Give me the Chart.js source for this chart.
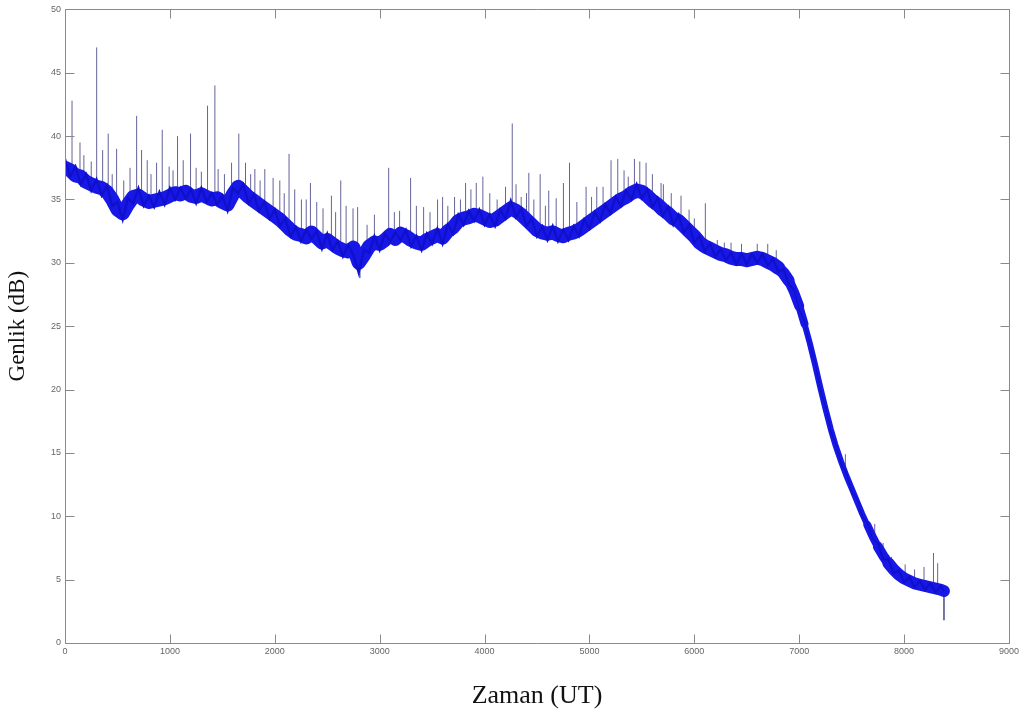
<!DOCTYPE html>
<html>
<head>
<meta charset="utf-8">
<script src="https://cdn.jsdelivr.net/npm/chart.js@4.4.1/dist/chart.umd.min.js"></script>
<style>
  html, body { margin: 0; padding: 0; background: #ffffff; }
  #wrap { width: 1022px; height: 722px; }
</style>
</head>
<body>
<div id="wrap"><canvas id="c" width="1022" height="722"></canvas></div>
<script>
// ---- data ----
const xTickLabels = ['0','1000','2000','3000','4000','5000','6000','7000','8000','9000'];
const yTickLabels = ['0','5','10','15','20','25','30','35','40','45','50'];

// samples are one every 50 s starting at 0
const sampleStep = 50;

// middle of the dense blue band (dB)
const bandMiddle = [
  37.5,37.3,36.9,36.8,36.4,36.2,36.0,35.9,35.6,35.0,
  34.2,33.9,34.6,35.2,35.3,35.0,34.8,34.9,35.0,35.1,
  35.3,35.5,35.4,35.6,35.3,35.2,35.4,35.2,35.0,35.1,
  34.8,34.6,35.4,36.0,35.6,35.2,34.9,34.6,34.3,34.0,
  33.7,33.4,33.0,32.6,32.3,32.2,32.0,32.4,32.0,31.6,
  31.8,31.5,31.2,31.0,30.9,31.2,30.0,30.6,31.3,31.6,
  31.5,31.8,32.2,31.9,32.3,32.1,31.8,31.6,31.5,31.8,
  32.0,32.2,32.0,32.5,32.8,33.3,33.5,33.6,33.8,33.7,
  33.5,33.3,33.4,33.7,34.0,34.3,34.1,33.8,33.4,33.0,
  32.6,32.4,32.3,32.4,32.2,32.1,32.3,32.4,32.6,32.9,
  33.2,33.5,33.8,34.1,34.4,34.7,35.0,35.2,35.5,35.7,
  35.6,35.3,34.9,34.6,34.2,33.9,33.5,33.3,32.9,32.5,
  32.1,31.6,31.3,31.1,30.9,30.7,30.6,30.4,30.3,30.3,
  30.2,30.3,30.4,30.3,30.1,29.9,29.6,29.2,28.6,27.7,
  26.6,25.2,23.7,22.0,20.2,18.5,16.9,15.5,14.3,13.2,
  12.2,11.2,10.2,9.3,8.4,7.6,6.9,6.3,5.8,5.4,
  5.1,4.9,4.7,4.6,4.5,4.4,4.3,4.2
];

// noisy amplitude samples (dB)
const amplitude = [
  38.2,36.8,37.6,36.2,37.0,35.7,36.6,35.3,36.1,34.5,
  34.8,33.4,35.1,34.7,35.9,34.5,35.3,34.4,35.6,34.6,
  35.9,35.0,35.9,35.1,35.8,34.7,35.9,34.8,35.5,34.6,
  35.3,34.1,35.9,35.5,36.2,34.7,35.4,34.1,34.8,33.5,
  34.2,32.9,33.5,32.1,32.8,31.7,32.6,31.9,32.5,31.1,
  32.3,31.0,31.7,30.5,31.4,30.6,29.2,31.0,30.8,32.1,
  31.0,32.3,31.7,32.4,31.8,32.6,31.3,32.1,31.0,32.3,
  31.5,32.7,31.5,33.0,32.3,33.8,33.0,34.1,33.3,34.2,
  33.0,33.8,32.9,34.2,33.5,34.9,33.6,34.3,32.9,33.5,
  32.1,32.9,31.8,32.9,31.7,32.6,31.8,32.9,32.1,33.4,
  32.7,34.0,33.3,34.6,33.9,35.2,34.5,35.7,35.0,36.2,
  35.1,35.8,34.4,35.1,33.7,34.4,33.0,33.8,32.4,33.0,
  31.6,32.1,30.9,31.5,30.5,31.1,30.2,30.8,29.9,30.7,
  29.9,30.7,30.0,30.7,29.8,30.3,29.3,29.5,28.3,27.9,
  26.3,25.4,23.5,22.2,20.0,18.7,16.7,15.7,14.1,13.4,
  12.0,11.4,10.0,9.5,8.2,7.9,6.6,6.6,5.5,5.7,
  4.8,5.2,4.4,4.9,4.2,4.7,4.0,4.5
];
const lastTime = 8380;
const lastMiddle = 4.1;
const lastAmplitude = 4.1;

// spikes: time, foot (dB), tip (dB)
const spikeTime = [67,143,302,359,412,492,683,730,784,873,927,993,1073,1127,1197,1359,1429,1460,1588,1657,
  1721,1810,1905,1984,2048,2136,2254,2340,2460,2540,2629,2746,2790,2810,3086,3190,3295,3419,3552,3600,
  3714,3819,3921,3984,4264,4349,4422,4530,4612,4683,4752,4810,4968,5070,5206,5270,5429,5540,5683,5705,
  5873,6105,6219,6286,6600,6781,7440,7720,7800,7880,8010,8100,8190,8280,8320,8380,
  180,250,450,560,620,820,1030,1250,1300,1520,1770,1860,2090,2190,2300,2400,2580,2680,2880,2950,
  3140,3350,3480,3650,3770,3870,4050,4120,4200,4300,4400,4470,4580,4880,5020,5130,5330,5370,5480,5600,
  5780,5950,6000,6350,6450,6700];
const spikeFoot = [37.5,37.0,36.0,36.0,35.5,34.5,35.3,35.0,34.8,35.0,35.0,35.3,35.4,35.5,35.3,35.2,35.1,35.0,35.0,36.0,
  35.5,35.0,34.3,33.8,33.4,32.8,32.2,32.2,31.6,31.6,31.1,31.0,30.5,30.5,32.0,32.0,31.9,31.5,32.1,32.0,
  32.8,33.5,33.8,33.7,34.3,33.8,33.2,32.5,32.3,32.3,32.1,32.3,33.0,33.6,34.4,34.8,35.6,35.4,34.4,34.3,
  33.2,31.3,30.9,30.7,30.4,30.0,13.8,8.3,7.0,6.0,5.0,4.6,4.5,4.3,4.3,4.3,
  36.8,36.4,35.2,34.2,35.0,35.1,35.5,35.4,35.4,35.0,35.4,34.8,33.4,32.8,32.4,32.2,31.6,31.2,31.0,31.6,
  32.2,32.0,31.8,32.6,33.4,33.8,33.6,33.6,34.1,34.3,33.6,33.2,32.6,32.6,33.3,34.0,35.3,35.4,35.8,35.1,
  33.8,32.8,32.2,30.6,30.5,30.3];
const spikeTip = [42.8,39.5,47.0,38.9,40.2,39.0,41.6,38.9,38.1,37.9,40.5,37.6,40.0,38.1,40.2,42.4,44.0,37.4,37.9,40.2,
  37.9,37.4,37.4,36.7,36.5,38.6,35.0,36.3,34.3,35.3,36.5,34.3,34.4,28.8,37.5,34.1,36.7,34.4,35.0,35.2,
  35.2,36.3,36.3,36.8,41.0,35.2,37.1,37.0,35.7,35.1,36.3,37.9,36.0,36.0,38.1,38.2,38.2,37.9,36.3,36.2,
  35.3,34.7,31.8,31.6,31.5,31.0,14.9,9.4,7.9,6.8,6.2,5.8,6.0,7.1,6.3,1.8,
  38.5,38.0,37.0,36.5,37.5,37.0,37.3,37.5,37.2,37.0,37.0,36.5,35.5,35.8,35.0,34.8,34.0,34.5,33.0,33.8,
  34.0,34.5,34.0,34.5,35.0,35.8,35.5,35.0,36.0,36.2,35.5,35.0,34.5,34.8,35.2,36.0,37.3,36.8,38.0,37.0,
  35.5,34.2,33.5,31.6,31.5,31.5];

// ---- build library data ----
const middleData = bandMiddle.map((v, i) => ({ x: i * sampleStep, y: v }));
middleData.push({ x: lastTime, y: lastMiddle });
const noisyData = amplitude.map((v, i) => ({ x: i * sampleStep, y: v }));
noisyData.push({ x: lastTime, y: lastAmplitude });

const spikeData = [];
spikeTime.forEach((t, i) => {
  spikeData.push({ x: t, y: spikeFoot[i] });
  spikeData.push({ x: t, y: spikeTip[i] });
  spikeData.push({ x: t, y: null });
});

const boxPlugin = {
  id: 'matlabBox',
  afterDraw(chart) {
    const { ctx, chartArea: a, scales: { x, y } } = chart;
    const L = Math.round(a.left) + 0.5, R = Math.round(a.right) + 0.5;
    const T = Math.round(a.top) + 0.5, B = Math.round(a.bottom) + 0.5;
    ctx.save();
    ctx.strokeStyle = '#8a8a8a';
    ctx.lineWidth = 1;
    ctx.beginPath();
    ctx.rect(L, T, R - L, B - T);
    const len = 9;
    x.ticks.forEach(t => {
      const px = Math.round(x.getPixelForValue(t.value)) + 0.5;
      ctx.moveTo(px, B); ctx.lineTo(px, B - len);
      ctx.moveTo(px, T); ctx.lineTo(px, T + len);
    });
    y.ticks.forEach(t => {
      const py = Math.round(y.getPixelForValue(t.value)) + 0.5;
      ctx.moveTo(L, py); ctx.lineTo(L + len, py);
      ctx.moveTo(R, py); ctx.lineTo(R - len, py);
    });
    ctx.stroke();
    ctx.restore();
  }
};

// band thickness by level (style only)
const bandWidth = (c) => {
  const m = (c.p0.parsed.y + c.p1.parsed.y) / 2;
  if (m > 29.5) return 14;
  if (m > 28.5) return 12;
  if (m > 27) return 10;
  if (m > 25) return 8;
  if (m > 9) return 6;
  if (m > 7.5) return 8;
  if (m > 6.2) return 10;
  return 12;
};
const noiseWidth = (c) => {
  const m = (c.p0.parsed.y + c.p1.parsed.y) / 2;
  return (m > 8 && m < 28) ? 1.2 : 2.2;
};

new Chart(document.getElementById('c'), {
  type: 'line',
  data: {
    datasets: [
      {
        label: 'Genlik (noise)',
        data: noisyData,
        borderColor: '#1010cc',
        borderWidth: 2.2,
        pointRadius: 0,
        tension: 0,
        order: 0,
        segment: { borderWidth: noiseWidth }
      },
      {
        label: 'Genlik',
        data: middleData,
        borderColor: '#1717e6',
        borderWidth: 14,
        borderCapStyle: 'round',
        borderJoinStyle: 'round',
        pointRadius: 0,
        tension: 0,
        order: 1,
        segment: { borderWidth: bandWidth }
      },
      {
        label: 'spikes',
        data: spikeData,
        borderColor: '#64649a',
        borderWidth: 1,
        pointRadius: 0,
        spanGaps: false,
        tension: 0,
        order: 2
      }
    ]
  },
  options: {
    responsive: false,
    animation: false,
    events: [],
    layout: { padding: { left: 0, right: 12, top: 9, bottom: 0 } },
    plugins: { legend: { display: false }, tooltip: { enabled: false } },
    scales: {
      x: {
        type: 'linear',
        min: 0, max: 9000,
        afterFit(s) { s.height = 79; },
        afterBuildTicks(s) { s.ticks = xTickLabels.map(v => ({ value: Number(v) })); },
        ticks: {
          callback: (v) => String(v),
          color: '#666666',
          font: { family: 'Liberation Sans', size: 9 },
          padding: 3,
          maxRotation: 0,
          autoSkip: false
        },
        grid: { display: false, drawTicks: false },
        border: { display: false },
        title: {
          display: true,
          text: 'Zaman (UT)',
          color: '#111111',
          font: { family: 'Liberation Serif', size: 26 },
          padding: { top: 0, bottom: 10 }
        }
      },
      y: {
        type: 'linear',
        min: 0, max: 50,
        afterFit(s) { s.width = 65; },
        afterBuildTicks(s) { s.ticks = yTickLabels.map(v => ({ value: Number(v) })); },
        ticks: {
          callback: (v) => String(v),
          color: '#666666',
          font: { family: 'Liberation Sans', size: 9 },
          padding: 4,
          autoSkip: false
        },
        grid: { display: false, drawTicks: false },
        border: { display: false },
        title: {
          display: true,
          text: 'Genlik (dB)',
          color: '#111111',
          font: { family: 'Liberation Serif', size: 23 },
          padding: { top: 4, bottom: 0 }
        }
      }
    }
  },
  plugins: [boxPlugin]
});
</script>
</body>
</html>
